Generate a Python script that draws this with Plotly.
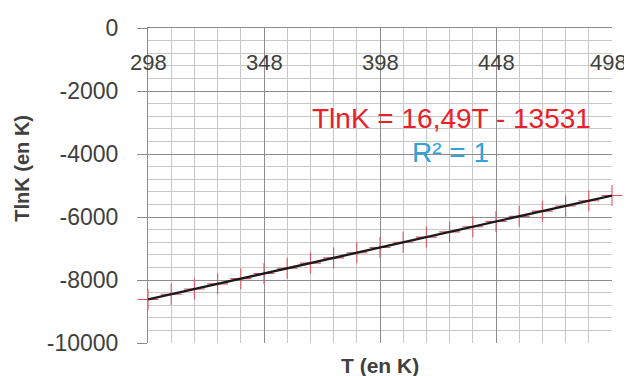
import plotly.graph_objects as go

T = [298, 308, 318, 328, 338, 348, 358, 368, 378, 388, 398,
     408, 418, 428, 438, 448, 458, 468, 478, 488, 498]
TlnK = [-8617, -8452, -8287, -8122, -7957, -7792, -7628, -7463, -7298, -7133, -6968,
        -6803, -6638, -6473, -6308, -6143, -5979, -5814, -5649, -5484, -5319]
x_ticks = [298, 348, 398, 448, 498]
y_ticks = [0, -2000, -4000, -6000, -8000, -10000]
equation = "TlnK = 16,49T - 13531"
r2_text = "R² = 1"

FONT = "Liberation Sans, Arial, sans-serif"
TICKC = "#404040"
MAJ = "#8c8c8c"
MIN = "#c8c8c8"

fig = go.Figure()
fig.add_trace(go.Scatter(
    x=T, y=TlnK, mode="markers",
    marker=dict(symbol="cross-thin", size=15, line=dict(color="#e05562", width=1.1)),
    cliponaxis=False, showlegend=False))
fig.add_trace(go.Scatter(
    x=T, y=TlnK, mode="lines",
    line=dict(color="#1a1a1a", width=2.4),
    cliponaxis=False, showlegend=False))

annotations = []
for v in x_ticks:
    annotations.append(dict(text=str(v), xref="x", yref="paper", x=v, y=0.892,
                            xanchor="center", yanchor="middle", showarrow=False,
                            xshift=(-4 if v == x_ticks[-1] else 0),
                            font=dict(size=22, color=TICKC, family=FONT)))
annotations += [
    dict(text="<b>T (en K)</b>", xref="paper", yref="paper", x=0.5, y=-0.07,
         xanchor="center", yanchor="middle", showarrow=False,
         font=dict(size=21, color=TICKC, family=FONT)),
    dict(text="<b>TlnK (en K)</b>", xref="paper", yref="paper", x=-0.272, y=0.556,
         xanchor="center", yanchor="middle", showarrow=False, textangle=-90,
         font=dict(size=20, color=TICKC, family=FONT)),
    dict(text=equation, xref="paper", yref="paper", x=0.655, y=0.714,
         xanchor="center", yanchor="middle", showarrow=False,
         font=dict(size=28, color="#e8202a", family=FONT)),
    dict(text=r2_text, xref="paper", yref="paper", x=0.651, y=0.606,
         xanchor="center", yanchor="middle", showarrow=False,
         font=dict(size=28, color="#2ea3dc", family=FONT)),
]

fig.update_layout(
    width=624, height=368,
    margin=dict(l=140, r=20, t=20, b=33),
    paper_bgcolor="white", plot_bgcolor="white",
    font=dict(family=FONT, color=TICKC),
    xaxis=dict(
        range=[298, 498], side="top", automargin=False,
        tickvals=x_ticks, showticklabels=False,
        showgrid=True, gridcolor=MAJ, gridwidth=1,
        minor=dict(dtick=10, tick0=298, showgrid=True, gridcolor=MIN, gridwidth=1),
        showline=True, linecolor=MAJ, linewidth=1,
        zeroline=False, ticks="",
    ),
    yaxis=dict(
        range=[-10000, 0], automargin=False,
        tickvals=y_ticks, ticktext=[str(v) for v in y_ticks],
        tickfont=dict(size=23, color=TICKC, family=FONT),
        ticklabelstandoff=14,
        showgrid=True, gridcolor=MAJ, gridwidth=1,
        minor=dict(dtick=400, tick0=0, showgrid=True, gridcolor=MIN, gridwidth=1),
        showline=True, linecolor=MAJ, linewidth=1,
        ticks="outside", ticklen=10, tickcolor=MAJ,
        zeroline=False,
    ),
    annotations=annotations,
)

fig.write_html("out.html")
